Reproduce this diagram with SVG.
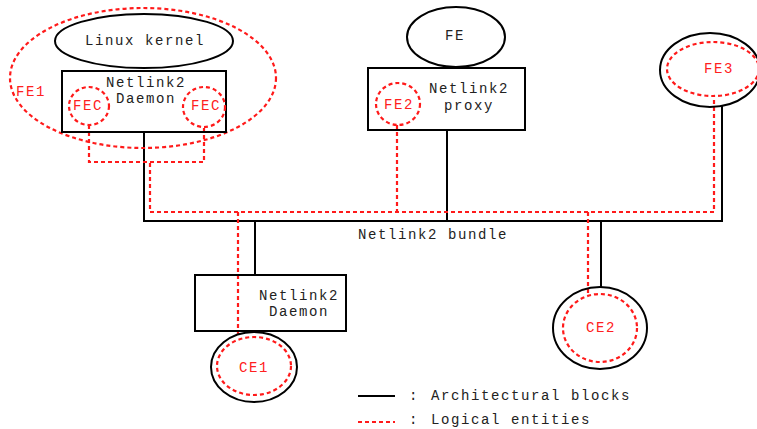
<svg xmlns="http://www.w3.org/2000/svg" width="757" height="429" viewBox="0 0 757 429">
<style>
.blk{fill:none;stroke:#000;stroke-width:2}
.log{fill:none;stroke:#ff1a1a;stroke-width:2.2;stroke-dasharray:4 3}
.t{font-family:"Liberation Mono","Courier New",monospace;font-size:14px;letter-spacing:1.6px;fill:#222;text-anchor:middle}
.r{fill:#ff2020}
.l{text-anchor:start}
</style>
<rect width="757" height="429" fill="#fff"/>
<g id="connectors">
<path class="blk" d="M144,132 V221 H722 V106"/>
<path class="blk" d="M447,130 V221"/>
<path class="blk" d="M255,221 V275"/>
<path class="blk" d="M601,221 V287"/>
<path class="log" d="M89,125 V162 H204 V127"/>
<path class="log" d="M150,163 V212 H714 V97"/>
<path class="log" d="M397,125 V212"/>
<path class="log" d="M238,212 V338"/>
<path class="log" d="M588,212 V295"/>
</g>
<g id="fe1">
<ellipse class="log" cx="143" cy="78" rx="133" ry="70"/>
<text class="t r" x="31" y="96">FE1</text>
</g>
<g id="linux-kernel">
<ellipse class="blk" cx="144" cy="41" rx="89" ry="27" fill="#fff"/>
<text class="t" x="145" y="45">Linux kernel</text>
</g>
<g id="daemon-top">
<rect class="blk" x="62" y="71" width="164" height="61"/>
<text class="t" x="146" y="87">Netlink2</text>
<text class="t" x="146" y="103">Daemon</text>
</g>
<g id="fec-left">
<ellipse class="log" cx="89" cy="106" rx="20" ry="19"/>
<text class="t r" x="88" y="110">FEC</text>
</g>
<g id="fec-right">
<ellipse class="log" cx="204" cy="107" rx="21" ry="20"/>
<text class="t r" x="206" y="110">FEC</text>
</g>
<g id="fe">
<ellipse class="blk" cx="456" cy="37" rx="49" ry="30"/>
<text class="t" x="455" y="40">FE</text>
</g>
<g id="proxy">
<rect class="blk" x="368" y="68" width="157" height="62"/>
<text class="t" x="469" y="93">Netlink2</text>
<text class="t" x="469" y="110">proxy</text>
</g>
<g id="fe2">
<ellipse class="log" cx="398" cy="104" rx="22" ry="21"/>
<text class="t r" x="399" y="109">FE2</text>
</g>
<g id="fe3">
<ellipse class="blk" cx="710" cy="70" rx="50" ry="37"/>
<ellipse class="log" cx="713" cy="69" rx="46" ry="27"/>
<text class="t r" x="719" y="73">FE3</text>
</g>
<g id="bundle">
<text class="t" x="433" y="239">Netlink2 bundle</text>
</g>
<g id="daemon-bottom">
<rect class="blk" x="195" y="275" width="151" height="56"/>
<text class="t" x="299" y="300">Netlink2</text>
<text class="t" x="299" y="316">Daemon</text>
</g>
<g id="ce1">
<ellipse class="blk" cx="254" cy="367" rx="43" ry="35"/>
<ellipse class="log" cx="254" cy="366" rx="37" ry="29"/>
<text class="t r" x="254" y="372">CE1</text>
</g>
<g id="ce2">
<ellipse class="blk" cx="600" cy="328" rx="47" ry="41"/>
<ellipse class="log" cx="600" cy="328" rx="37" ry="34"/>
<text class="t r" x="601" y="332">CE2</text>
</g>
<g id="legend">
<line class="blk" x1="358" y1="396" x2="395" y2="396"/>
<line class="log" x1="358" y1="422" x2="395" y2="422"/>
<text class="t" x="414" y="400">:</text>
<text class="t l" x="431" y="400">Architectural blocks</text>
<text class="t" x="414" y="424">:</text>
<text class="t l" x="431" y="424">Logical entities</text>
</g>
</svg>
